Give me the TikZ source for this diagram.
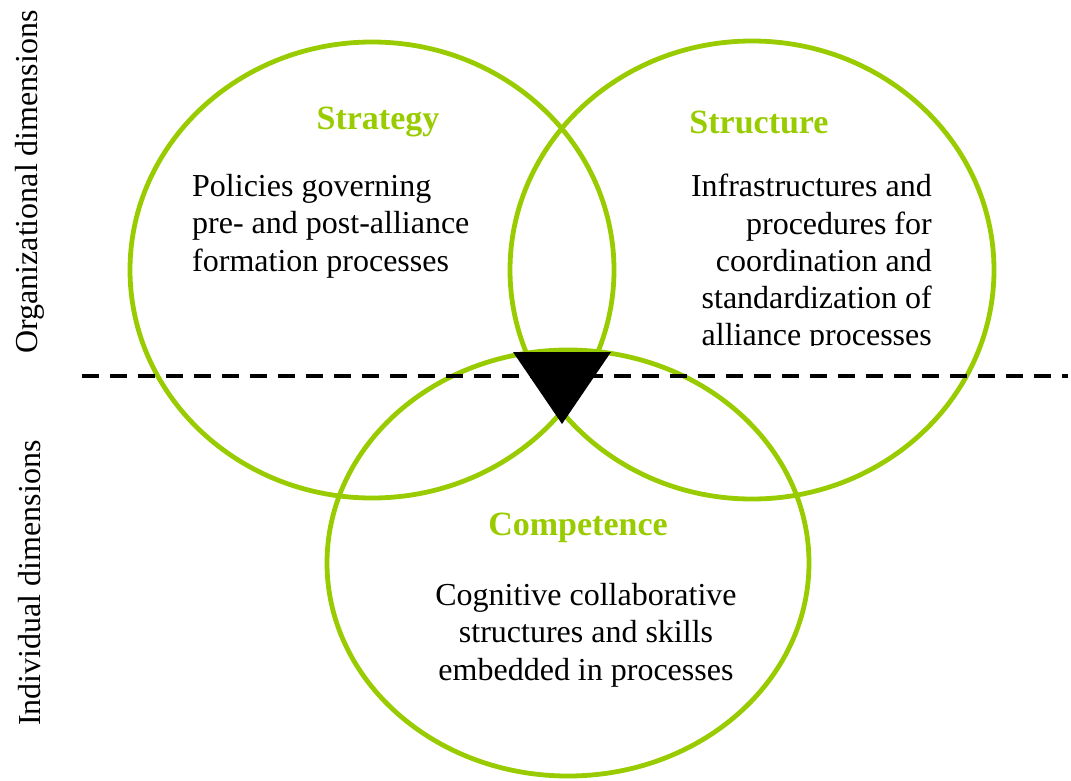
\documentclass[tikz,border=0pt]{standalone}
\usepackage{fontspec}
\setmainfont{Liberation Serif}
\definecolor{leaf}{RGB}{153,204,0}
\begin{document}
\begin{tikzpicture}[x=1pt,y=-1pt,
  ring/.style={draw=leaf,line width=4.8pt},
  heading/.style={font=\fontsize{34}{38}\selectfont\bfseries,text=leaf,inner sep=0pt},
  body/.style={font=\fontsize{32}{37.3}\selectfont,inner sep=0pt},
  sidelabel/.style={font=\fontsize{32}{37}\selectfont,rotate=90,inner sep=0pt}]
  \useasboundingbox (0,0) rectangle (1071,780);

  % the three dimension rings
  \draw[ring] (372,270) ellipse [x radius=242pt, y radius=228pt];
  \draw[ring] (752,270) ellipse [x radius=242pt, y radius=229pt];
  \draw[ring] (568,563) ellipse [x radius=241pt, y radius=213pt];

  % boundary between organizational and individual dimensions
  \draw[line width=3.2pt,dash pattern=on 17pt off 11pt] (82,376) -- (1068,376);

  % centre marker
  \fill (513,352) -- (611,352) -- (562,424) -- cycle;

  % Strategy
  \node[heading] (strategyhead) at (378,122) {Strategy};
  \node[body,anchor=north west,align=left] (strategytext) at (192,174)
    {Policies governing\\pre- and post-alliance\\formation processes};

  % Structure
  \node[heading] (structurehead) at (759,122) {Structure};
  \begin{scope}
    \clip (600,150) rectangle (1000,345);
    \node[body,anchor=north east,align=right] (structuretext) at (932,174)
      {Infrastructures and\\procedures for\\coordination and\\standardization of\\alliance processes};
  \end{scope}

  % Competence
  \node[heading] (competencehead) at (578,528) {Competence};
  \node[body,anchor=north,align=center] (competencetext) at (586,583)
    {Cognitive collaborative\\structures and skills\\embedded in processes};

  % side labels
  \node[sidelabel] (orglabel) at (30,182) {Organizational dimensions};
  \node[sidelabel] (indlabel) at (30,583) {Individual dimensions};
\end{tikzpicture}
\end{document}
